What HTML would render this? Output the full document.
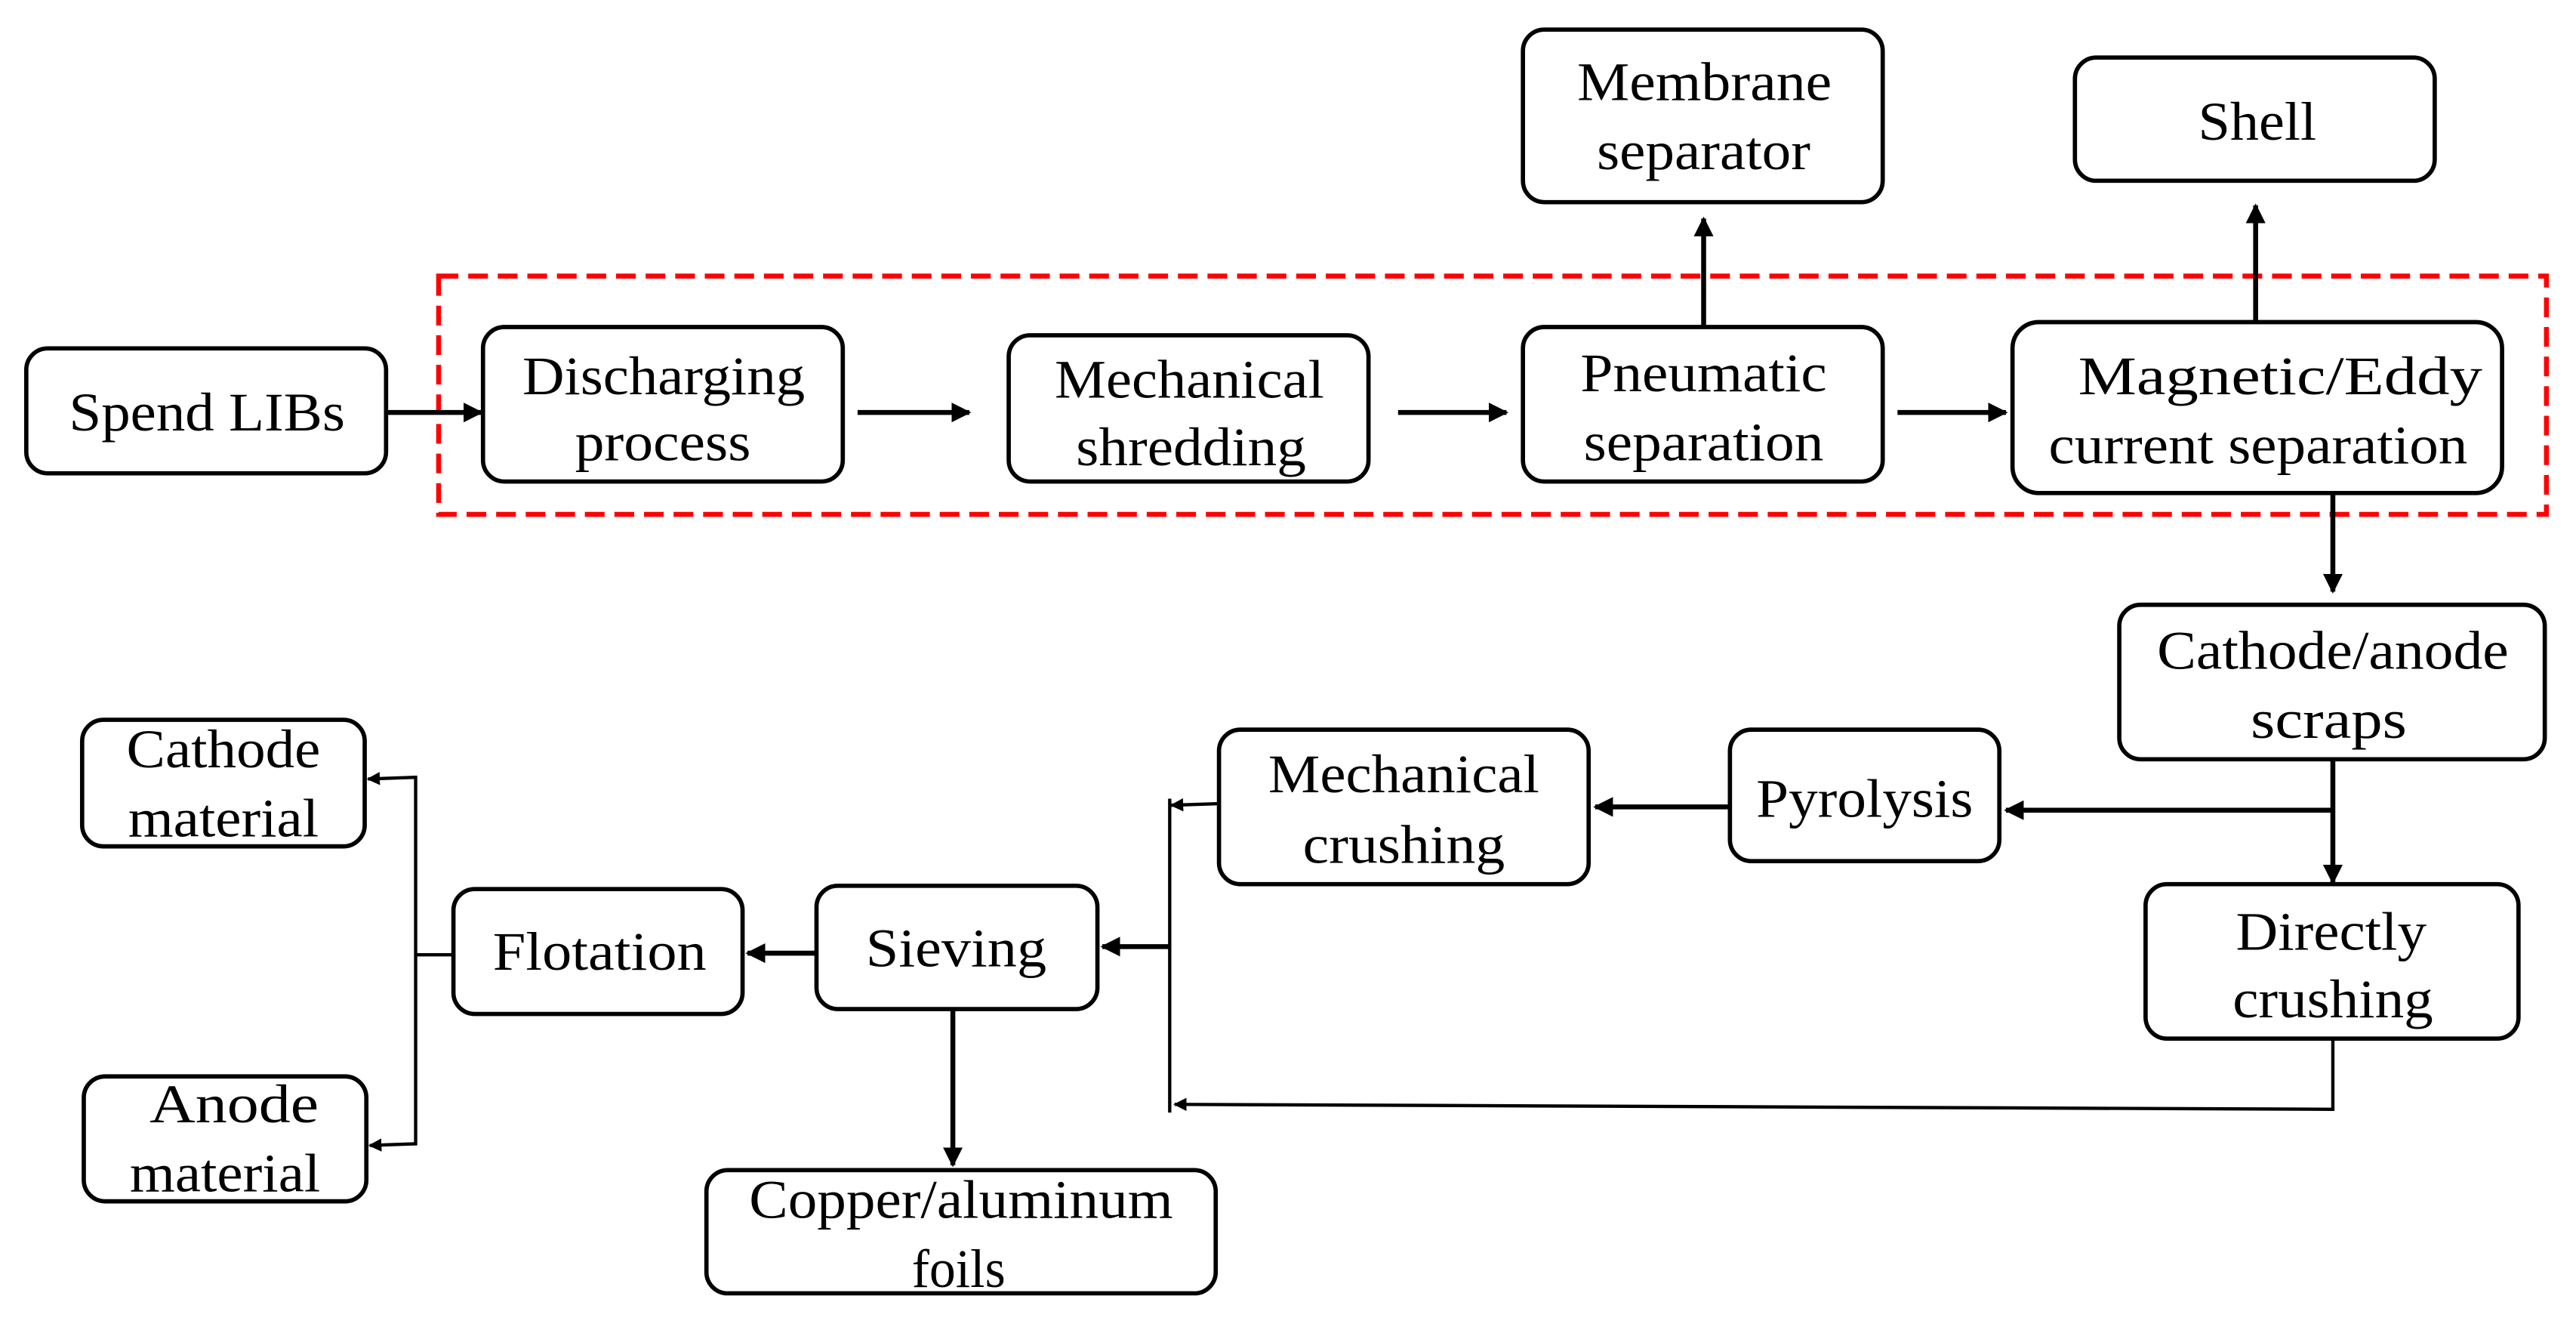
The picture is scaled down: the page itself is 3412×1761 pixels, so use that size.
<!DOCTYPE html>
<html><head><meta charset="utf-8"><style>
html,body{margin:0;padding:0;background:#fff;}
svg{display:block;}
text{font-family:"Liberation Serif","Times New Roman",Times,serif;font-size:33px;fill:#000;}
</style></head><body>
<svg width="3412" height="1761" viewBox="0 0 1568 809.3" preserveAspectRatio="none" xmlns="http://www.w3.org/2000/svg">
<defs>
<marker id="a" viewBox="0 0 10 10" refX="9" refY="5" markerWidth="4" markerHeight="4" orient="auto"><path d="M0,0 L10,5 L0,10 z" fill="#000"/></marker>
</defs>
<g fill="none" stroke="#000" stroke-width="2.6">
<rect x="16" y="212" width="219" height="76" rx="13"/>
<rect x="294" y="199" width="219" height="94" rx="13"/>
<rect x="614" y="204" width="219" height="89" rx="13"/>
<rect x="927" y="199" width="219" height="94" rx="13"/>
<rect x="1225" y="196" width="298" height="104" rx="16"/>
<rect x="927" y="18" width="219" height="105" rx="13"/>
<rect x="1263" y="35" width="219" height="75" rx="13"/>
<rect x="1290" y="368" width="259" height="94" rx="13"/>
<rect x="1053" y="444" width="164" height="80" rx="13"/>
<rect x="742" y="444" width="225" height="94" rx="13"/>
<rect x="1306" y="538" width="227" height="94" rx="13"/>
<rect x="497" y="539" width="171" height="75" rx="13"/>
<rect x="276" y="541" width="176" height="76" rx="13"/>
<rect x="50" y="438" width="172" height="77" rx="13"/>
<rect x="51" y="655" width="172" height="76" rx="13"/>
<rect x="430" y="712" width="310" height="75" rx="13"/>
</g>
<rect x="267" y="168" width="1283" height="145" fill="none" stroke="#f00" stroke-width="3" stroke-dasharray="12,6"/>
<g stroke="#000" stroke-width="3" fill="none" marker-end="url(#a)">
<line x1="235" y1="251" x2="293" y2="251"/>
<line x1="522" y1="251" x2="590" y2="251"/>
<line x1="851" y1="251" x2="917" y2="251"/>
<line x1="1155" y1="251" x2="1221" y2="251"/>
<line x1="1037" y1="199" x2="1037" y2="133"/>
<line x1="1373" y1="196" x2="1373" y2="125"/>
<line x1="1420" y1="300" x2="1420" y2="360"/>
<line x1="1420" y1="462" x2="1420" y2="537"/>
<line x1="1420" y1="493" x2="1221" y2="493"/>
<line x1="1053" y1="491" x2="971" y2="491"/>
<line x1="712" y1="576" x2="671" y2="576"/>
<line x1="497" y1="580" x2="455" y2="580"/>
<line x1="580" y1="614" x2="580" y2="709"/>
</g>
<g stroke="#000" stroke-width="2" fill="none">
<polyline points="1420,632 1420,675 715,672" marker-end="url(#a)"/>
<line x1="712" y1="486" x2="712" y2="677"/>
<line x1="742" y1="489" x2="713" y2="490" marker-end="url(#a)"/>
<line x1="276" y1="581" x2="253" y2="581"/>
<line x1="253" y1="472" x2="253" y2="697"/>
<line x1="253" y1="473" x2="224" y2="474" marker-end="url(#a)"/>
<line x1="253" y1="696" x2="225" y2="697" marker-end="url(#a)"/>
</g>
<g font-family="Liberation Serif, Times New Roman, serif">
<text x="42" y="262" textLength="168" lengthAdjust="spacingAndGlyphs">Spend LIBs</text>
<text x="318" y="240" textLength="172" lengthAdjust="spacingAndGlyphs">Discharging</text>
<text x="350" y="280" textLength="107" lengthAdjust="spacingAndGlyphs">process</text>
<text x="642" y="242" textLength="164" lengthAdjust="spacingAndGlyphs">Mechanical</text>
<text x="655" y="283" textLength="140" lengthAdjust="spacingAndGlyphs">shredding</text>
<text x="962" y="238" textLength="150" lengthAdjust="spacingAndGlyphs">Pneumatic</text>
<text x="964" y="280" textLength="146" lengthAdjust="spacingAndGlyphs">separation</text>
<text x="1265" y="240" textLength="246" lengthAdjust="spacingAndGlyphs">Magnetic/Eddy</text>
<text x="1247" y="282" textLength="255" lengthAdjust="spacingAndGlyphs">current separation</text>
<text x="960" y="61" textLength="155" lengthAdjust="spacingAndGlyphs">Membrane</text>
<text x="972" y="103" textLength="130" lengthAdjust="spacingAndGlyphs">separator</text>
<text x="1338" y="85" textLength="72" lengthAdjust="spacingAndGlyphs">Shell</text>
<text x="1313" y="407" textLength="214" lengthAdjust="spacingAndGlyphs">Cathode/anode</text>
<text x="1370" y="449" textLength="95" lengthAdjust="spacingAndGlyphs">scraps</text>
<text x="1069" y="497" textLength="132" lengthAdjust="spacingAndGlyphs">Pyrolysis</text>
<text x="772" y="482" textLength="165" lengthAdjust="spacingAndGlyphs">Mechanical</text>
<text x="793" y="525" textLength="123" lengthAdjust="spacingAndGlyphs">crushing</text>
<text x="1361" y="578" textLength="116" lengthAdjust="spacingAndGlyphs">Directly</text>
<text x="1359" y="619" textLength="122" lengthAdjust="spacingAndGlyphs">crushing</text>
<text x="527" y="588" textLength="110" lengthAdjust="spacingAndGlyphs">Sieving</text>
<text x="300" y="590" textLength="130" lengthAdjust="spacingAndGlyphs">Flotation</text>
<text x="77" y="467" textLength="118" lengthAdjust="spacingAndGlyphs">Cathode</text>
<text x="78" y="509" textLength="116" lengthAdjust="spacingAndGlyphs">material</text>
<text x="91" y="683" textLength="103" lengthAdjust="spacingAndGlyphs">Anode</text>
<text x="79" y="725" textLength="116" lengthAdjust="spacingAndGlyphs">material</text>
<text x="456" y="741" textLength="258" lengthAdjust="spacingAndGlyphs">Copper/aluminum</text>
<text x="555" y="783" textLength="57" lengthAdjust="spacingAndGlyphs">foils</text>
</g>
</svg>
</body></html>
